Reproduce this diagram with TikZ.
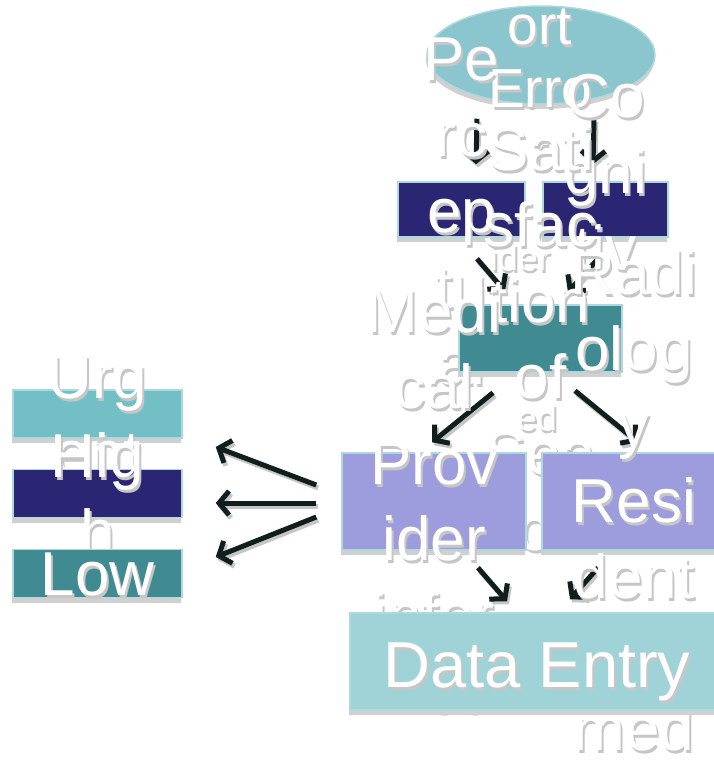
\documentclass[tikz,border=0pt]{standalone}
\usepackage{fontspec}
\setmainfont{Liberation Sans}
\usetikzlibrary{shapes.geometric,shadows,arrows.meta,calc}
\pgfdeclarelayer{links}
\pgfsetlayers{links,main}

\definecolor{ellfill}{RGB}{139,197,205}
\definecolor{navy}{RGB}{42,38,115}
\definecolor{tealbox}{RGB}{63,139,145}
\definecolor{lilac}{RGB}{157,156,220}
\definecolor{paleteal}{RGB}{160,211,216}
\definecolor{midteal}{RGB}{114,192,198}
\definecolor{edge}{RGB}{172,216,222}
\definecolor{boxshade}{RGB}{208,208,208}
\definecolor{tshade}{RGB}{198,198,198}
\definecolor{ink}{RGB}{16,30,30}

% line struts: cap centre of every line sits on the line's axis
\newcommand\lsA{\rule[-15.8pt]{0pt}{76pt}}   % 62pt type, 76pt lines
\newcommand\lsB{\rule[-11.8pt]{0pt}{63pt}}   % 55pt type, 63pt lines
\newcommand\lsC{\rule[-13.4pt]{0pt}{73.4pt}} % 65pt type, single line
\newcommand\fA{\fontsize{62}{76}\selectfont}
\newcommand\fB{\fontsize{55}{63}\selectfont}
\newcommand\fC{\fontsize{65}{76}\selectfont}
\newcommand\fD{\fontsize{36}{40}\selectfont}

% white label with a grey drop shadow
\newcommand\shlabel[4]{%
  \node[tsh,font=#3] (#1s) at ($(#2)+(2,3)$) {#4};
  \node[tw,font=#3] (#1) at (#2) {#4};}

% connector with its shadow, kept underneath the shapes
\newcommand\arrowlink[4]{%
  \begin{pgfonlayer}{links}
    \draw[connshade] ($(#1)+(#2)+(2,3)$) -- ($(#3)+(#4)+(2,3)$);
    \draw[conn] ($(#1)+(#2)$) -- ($(#3)+(#4)$);
  \end{pgfonlayer}}

\begin{document}
\begin{tikzpicture}[x=1pt,y=-1pt,
  box/.style={inner sep=0pt,draw=edge,line width=1.5pt,
    drop shadow={shadow xshift=-1pt,shadow yshift=-5pt,fill=boxshade,opacity=1}},
  rbox/.style={rectangle,box},
  tw/.style={inner sep=0pt,align=center,text=white},
  tsh/.style={inner sep=0pt,align=center,text=tshade},
  conn/.style={line width=5pt,draw=ink,-{Straight Barb[length=10pt,width=24pt]}},
  connshade/.style={conn,draw=tshade}]

\useasboundingbox (0,0) rectangle (714,764);

% top: error report
\node[ellipse,box,fill=ellfill,minimum width=228pt,minimum height=98pt] (ell) at (541,55) {};
\shlabel{ellt}{540,56.3}{\fB}{\lsB Rep\\\lsB ort\\\lsB Erro\\\lsB r}

% error kinds
\node[rbox,fill=navy,minimum width=127pt,minimum height=55pt] (pc) at (461.5,209.5) {};
\shlabel{pct}{461.5,210.6}{\fA}{\lsA Pe\\\lsA rc\\\lsA ep\\\lsA tu\\\lsA al}
\node[rbox,fill=navy,minimum width=125pt,minimum height=55pt] (cg) at (605.5,209.5) {};
\shlabel{cgt}{605.5,209}{\fA}{\lsA Co\\\lsA gni\\\lsA tiv\\\lsA e}

\node[tsh,font=\fD,anchor=base] (ids) at (522,273) {ider};
\node[tw,font=\fD,anchor=base] (id) at (520,270) {ider};
\node[tsh,font=\fD,anchor=base] (eds) at (539,433) {ed};
\node[tw,font=\fD,anchor=base] (ed) at (537,430) {ed};

% middle step
\node[rbox,fill=tealbox,minimum width=163pt,minimum height=67pt] (sat) at (540.5,338.5) {};
\shlabel{satt}{540.5,338.5}{\fA}{\lsA Sati\\\lsA sfac\\\lsA tion\\\lsA of\\\lsA Sea\\\lsA rch}

% who is informed
\node[rbox,fill=lilac,minimum width=184pt,minimum height=97pt] (prv) at (434,501.5) {};
\shlabel{prvt}{434,500}{\fA}{\lsA Medi\\\lsA cal\\\lsA Prov\\\lsA ider\\\lsA infor\\\lsA med}
\node[rbox,fill=lilac,minimum width=184pt,minimum height=97pt] (res) at (634,501.5) {};
\shlabel{rest}{634,500}{\fA}{\lsA Radi\\\lsA olog\\\lsA y\\\lsA Resi\\\lsA dent\\\lsA infor\\\lsA med}

% final step
\node[rbox,fill=paleteal,minimum width=374pt,minimum height=97pt] (de) at (537,661.5) {};
\shlabel{det}{537,664}{\fC}{\lsC Data Entry}

% priority scale
\node[rbox,fill=midteal,minimum width=169pt,minimum height=48pt] (urg) at (97.5,414) {};
\shlabel{urgt}{97.5,414}{\fA}{\lsA Urg\\\lsA ent}
\node[rbox,fill=navy,minimum width=169pt,minimum height=48pt] (hig) at (97.5,493.5) {};
\shlabel{higt}{97.5,493.5}{\fA}{\lsA Hig\\\lsA h}
\node[rbox,fill=tealbox,minimum width=169pt,minimum height=48pt] (low) at (97.5,573.5) {};
\shlabel{lowt}{97.5,573.5}{\fA}{\lsA Low}

% connectors
\arrowlink{ell.south}{-64,14}{pc.north}{14.5,-17}
\arrowlink{ell.south}{53,14}{cg.north}{-12.5,-17}
\arrowlink{pc.south}{15.5,21}{sat.north}{-35.5,-13}
\arrowlink{cg.south}{-7.5,21}{sat.north}{27.5,-12}
\arrowlink{sat.south}{-47.5,20}{prv.north}{-2,-10}
\arrowlink{sat.south}{34.5,18}{res.north}{4,-10}
\arrowlink{prv.south}{44,17}{de.north}{-30,-11}
\arrowlink{res.south}{-36,17}{de.north}{33,-13}
\arrowlink{prv.west}{-25,-16.5}{urg.east}{33,33}
\arrowlink{prv.west}{-25,1.5}{hig.east}{33,9.5}
\arrowlink{prv.west}{-25,15.5}{low.east}{33,-16.5}
\end{tikzpicture}
\end{document}
